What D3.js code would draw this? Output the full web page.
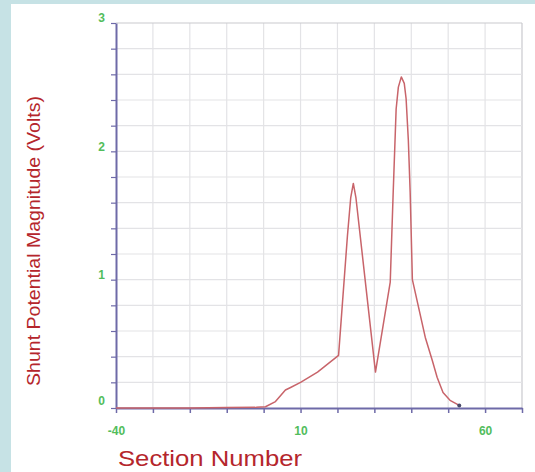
<!DOCTYPE html>
<html>
<head>
<meta charset="utf-8">
<script src="https://cdn.jsdelivr.net/npm/d3@7"></script>
<style>
  html, body { margin: 0; padding: 0; background: #c6e2e5; }
  #chart { width: 535px; height: 472px; }
</style>
</head>
<body>
<div id="chart"></div>
<script>
// Shunt potential along the pipeline sections
const sectionNumber = [-40, -30, -20, -10, -2, 0.5, 3.2, 5.9, 7.3, 10, 14.6, 20.3, 22.7, 23.6, 24.3, 25, 30.3,
    34.3, 35.1, 35.9, 36.5, 37.3, 38.1, 38.6, 39.2, 39.7, 40.3, 43.8, 45.7, 47, 48.6, 50.5, 53];
const potentialVolts = [0, 0, 0, 0.003, 0.005, 0.01, 0.05, 0.14, 0.16, 0.2, 0.28, 0.41, 1.34, 1.64, 1.75, 1.64, 0.28,
    0.98, 1.68, 2.33, 2.5, 2.58, 2.53, 2.41, 2.09, 1.68, 1.0, 0.55, 0.37, 0.24, 0.12, 0.06, 0.02];
const xTickLabels = [-40, 10, 60];
const yTickLabels = [0, 1, 2, 3];

const W = 535, H = 472;
const plot = { left: 116, right: 522, top: 23, bottom: 408 };

const svg = d3.select("#chart").append("svg")
    .attr("width", W)
    .attr("height", H);

// white card on the teal background
svg.append("rect")
    .attr("x", 11).attr("y", 4)
    .attr("width", W - 11).attr("height", H - 4)
    .attr("fill", "#ffffff");

const x = d3.scaleLinear().domain([-40, 70]).range([plot.left, plot.right]);
const y = d3.scaleLinear().domain([0, 3]).range([plot.bottom, plot.top]);

const xGrid = d3.range(-30, 71, 10);
const yGrid = d3.range(1, 16).map(i => i * 0.2);

// grid
svg.append("g").selectAll("line")
    .data(xGrid)
    .join("line")
    .attr("x1", d => x(d)).attr("x2", d => x(d))
    .attr("y1", plot.top).attr("y2", plot.bottom)
    .attr("stroke", d => d === 70 ? "#c9c9ce" : "#e3e3e6")
    .attr("stroke-width", 1.2);

svg.append("g").selectAll("line")
    .data(yGrid)
    .join("line")
    .attr("x1", plot.left).attr("x2", plot.right)
    .attr("y1", d => y(d)).attr("y2", d => y(d))
    .attr("stroke", (d, i) => i === yGrid.length - 1 ? "#c9c9ce" : "#e3e3e6")
    .attr("stroke-width", 1.2);

// axes
const axisColor = "#6e6aa8";
const labelColor = "#52bd5c";

const xAxis = svg.append("g")
    .attr("transform", `translate(0,${plot.bottom})`)
    .call(d3.axisBottom(x)
        .tickValues(d3.range(-40, 71, 10))
        .tickSize(5)
        .tickSizeOuter(0)
        .tickFormat(d => xTickLabels.includes(d) ? d : ""));
xAxis.select(".domain").attr("stroke", axisColor).attr("stroke-width", 2);
xAxis.selectAll(".tick line").attr("stroke", axisColor).attr("stroke-width", 1.5);
xAxis.selectAll(".tick text")
    .attr("y", 18)
    .attr("fill", labelColor)
    .attr("font-family", "Liberation Sans, Arial, sans-serif")
    .attr("font-weight", "bold")
    .attr("font-size", 12);

const yAxis = svg.append("g")
    .attr("transform", `translate(${plot.left},0)`)
    .call(d3.axisLeft(y)
        .tickValues(d3.range(0, 16).map(i => i * 0.2))
        .tickSize(5)
        .tickSizeOuter(0)
        .tickFormat(d => yTickLabels.some(v => Math.abs(v - d) < 1e-6) ? Math.round(d) : ""));
yAxis.select(".domain").attr("stroke", axisColor).attr("stroke-width", 2);
yAxis.selectAll(".tick line").attr("stroke", axisColor).attr("stroke-width", 1.2);
yAxis.selectAll(".tick text")
    .attr("x", -11)
    .attr("dy", "-0.1em")
    .attr("fill", labelColor)
    .attr("font-family", "Liberation Sans, Arial, sans-serif")
    .attr("font-weight", "bold")
    .attr("font-size", 12);
yAxis.selectAll(".tick").filter(d => d === 0).select("text").attr("dy", "-0.3em");

// data line
const points = sectionNumber.map((s, i) => [s, potentialVolts[i]]);
const line = d3.line()
    .x(d => x(d[0]))
    .y(d => y(d[1]));

svg.append("path")
    .datum(points)
    .attr("d", line)
    .attr("fill", "none")
    .attr("stroke", "#c8646a")
    .attr("stroke-width", 1.5)
    .attr("stroke-linejoin", "round");

const last = points[points.length - 1];
svg.append("circle")
    .attr("cx", x(last[0])).attr("cy", y(last[1]))
    .attr("r", 2)
    .attr("fill", "#4a4a6a");

// axis titles
const titleColor = "#b5262c";
svg.append("text")
    .attr("transform", `translate(40,241) rotate(-90)`)
    .attr("text-anchor", "middle")
    .attr("fill", titleColor)
    .attr("font-family", "Liberation Sans, Arial, sans-serif")
    .attr("font-size", 18)
    .attr("textLength", 290)
    .attr("lengthAdjust", "spacingAndGlyphs")
    .text("Shunt Potential Magnitude (Volts)");

svg.append("text")
    .attr("x", 118).attr("y", 466)
    .attr("fill", titleColor)
    .attr("font-family", "Liberation Sans, Arial, sans-serif")
    .attr("font-size", 22)
    .attr("textLength", 184)
    .attr("lengthAdjust", "spacingAndGlyphs")
    .text("Section Number");
</script>
</body>
</html>
